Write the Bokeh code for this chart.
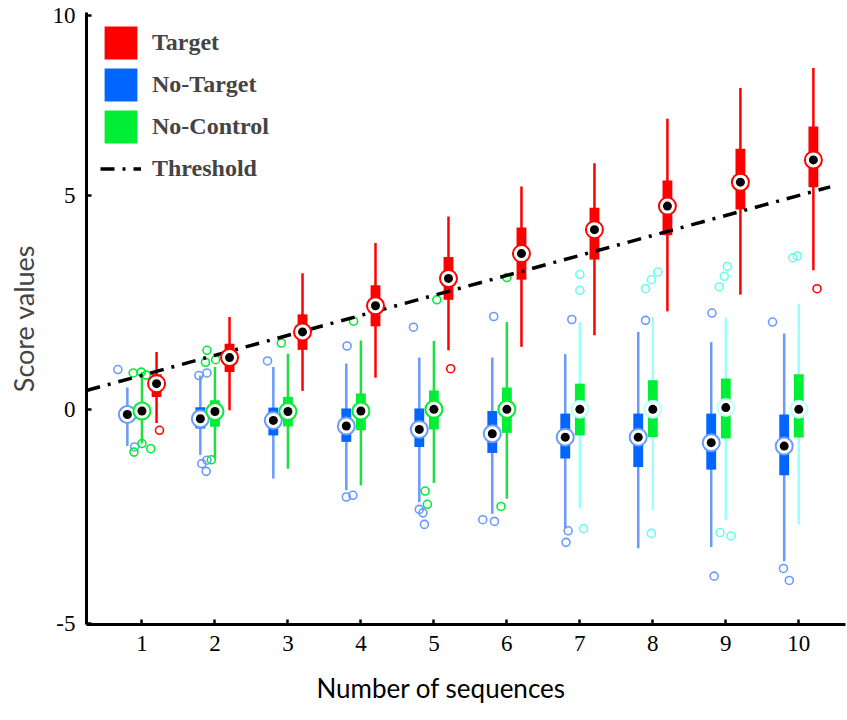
from bokeh.plotting import figure
from bokeh.models import Range1d, FixedTicker, Legend, LegendItem, Title, ColumnDataSource
from bokeh.embed import file_html
from bokeh.resources import INLINE

# ---------------- data ----------------
groups = [1, 2, 3, 4, 5, 6, 7, 8, 9, 10]
x_tick_labels = ["1", "2", "3", "4", "5", "6", "7", "8", "9", "10"]
y_tick_pos = [-5, 0, 5, 9.21]
y_tick_labels = ["-5", "0", "5", "10"]

# Target (red)
t_med = [0.60, 1.21, 1.81, 2.42, 3.06, 3.64, 4.20, 4.75, 5.31, 5.83]
t_q1 = [0.29, 0.87, 1.39, 1.94, 2.56, 3.03, 3.50, 4.07, 4.67, 5.19]
t_q3 = [0.82, 1.53, 2.22, 2.90, 3.56, 4.25, 4.71, 5.35, 6.09, 6.61]
t_lo = [-0.32, -0.02, 0.43, 0.74, 1.38, 1.46, 1.73, 2.29, 2.68, 3.25]
t_hi = [1.34, 2.16, 3.18, 3.89, 4.51, 5.21, 5.75, 6.79, 7.51, 7.98]
t_out_x = [1.24, 5.23, 10.25]
t_out_y = [-0.49, 0.95, 2.82]

# No-Target (blue)
n_med = [-0.12, -0.22, -0.26, -0.39, -0.47, -0.57, -0.65, -0.65, -0.78, -0.86]
n_q1 = [-0.25, -0.45, -0.61, -0.76, -0.88, -1.02, -1.15, -1.35, -1.41, -1.54]
n_q3 = [0.02, 0.05, 0.04, 0.02, 0.02, -0.04, -0.10, -0.10, -0.10, -0.12]
n_lo = [-0.86, -1.07, -1.62, -1.89, -2.17, -2.44, -2.79, -3.25, -3.22, -3.55]
n_hi = [0.51, 0.79, 0.99, 1.07, 1.21, 1.21, 1.29, 1.81, 1.57, 1.77]
n_out_x = [0.67, 0.90, 1.78, 1.89, 1.82, 1.89, 1.88, 2.72, 3.81, 3.80, 3.89,
           4.72, 4.80, 4.85, 4.87, 5.82, 5.67, 5.83, 6.89, 6.84, 6.81, 7.90,
           8.81, 8.84, 9.64, 9.79, 9.87]
n_out_y = [0.93, -0.88, 0.79, 0.85, -1.27, -1.19, -1.45, 1.13, 1.48, -2.05, -2.01,
           1.92, -2.34, -2.42, -2.69, 2.17, -2.58, -2.62, 2.10, -2.84, -3.11, 2.08,
           2.25, -3.90, 2.04, -3.72, -4.00]

# No-Control (green)
c_med = [-0.04, -0.05, -0.05, -0.04, 0.00, 0.00, 0.00, 0.00, 0.04, 0.00]
c_q1 = [-0.18, -0.41, -0.40, -0.49, -0.47, -0.55, -0.61, -0.65, -0.68, -0.66]
c_q3 = [0.09, 0.21, 0.29, 0.37, 0.44, 0.51, 0.60, 0.68, 0.72, 0.82]
c_lo = [-0.80, -1.15, -1.39, -1.78, -1.72, -2.09, -2.32, -2.36, -2.58, -2.69]
c_hi = [0.87, 0.99, 1.30, 1.61, 1.60, 2.04, 2.04, 2.16, 2.14, 2.47]
c_out_x = [0.88, 0.99, 1.06, 0.89, 1.00, 1.12, 1.89, 1.87, 2.01, 1.95, 2.91, 3.90,
           5.04, 4.88, 4.91, 6.00, 5.92, 7.00, 7.00, 7.05, 7.90, 7.98, 8.07, 7.98,
           8.91, 8.98, 9.02, 8.92, 9.07, 9.92, 9.98]
c_out_y = [0.85, 0.87, 0.80, -1.00, -0.80, -0.92, 1.38, 1.10, 1.16, -1.18, 1.55, 2.06,
           2.56, -1.91, -2.22, 3.08, -2.27, 3.15, 2.78, -2.79, 2.82, 3.03, 3.21, -2.90,
           2.86, 3.11, 3.34, -2.88, -2.96, 3.54, 3.58]

# Threshold line end points
thr_x = [0.24, 10.43]
thr_y = [0.44, 5.20]

# ---------------- styling ----------------
RED = "#ff0000"
BLUE = "#0066ff"
BLUE_L = "#6a9aff"
GREEN = "#00ee33"
GREEN_W = "#22dd44"
CYAN = "#99ffff"

offsets = {"n": -0.2, "c": 0.0, "t": 0.2}
BOX_W = 0.135

p = figure(width=847, height=720,
           x_range=Range1d(0.24, 10.64), y_range=Range1d(-5.03, 9.276),
           output_backend="svg", toolbar_location=None,
           min_border_left=86, min_border_right=2, min_border_top=12, min_border_bottom=96)
p.outline_line_color = None
p.xgrid.visible = False
p.ygrid.visible = False
p.background_fill_color = "white"

def shifted(xs, d):
    return [x + d for x in xs]

def draw_group(key, med, q1, q3, lo, hi, box_col, whisk_cols, ring_cols):
    xs = shifted(groups, offsets[key])
    src = ColumnDataSource(dict(x=xs, med=med, q1=q1, q3=q3, lo=lo, hi=hi,
                                wc=whisk_cols, rc=ring_cols))
    p.segment(x0="x", y0="lo", x1="x", y1="hi", source=src, line_color="wc", line_width=2.5)
    box = p.vbar(x="x", width=BOX_W, bottom="q1", top="q3", source=src,
                 fill_color=box_col, line_color=None)
    return src, box

n_src, n_box = draw_group("n", n_med, n_q1, n_q3, n_lo, n_hi, BLUE,
                          [BLUE_L] * 10, [BLUE_L] * 10)
c_src, c_box = draw_group("c", c_med, c_q1, c_q3, c_lo, c_hi, GREEN,
                          [GREEN_W if g < 7 else CYAN for g in groups],
                          [GREEN if g < 7 else "#bbffff" for g in groups])
t_src, t_box = draw_group("t", t_med, t_q1, t_q3, t_lo, t_hi, RED,
                          [RED] * 10, [RED] * 10)

# outliers
p.scatter(n_out_x, n_out_y, marker="circle", size=8, fill_color=None,
          line_color=BLUE_L, line_width=1.6)
p.scatter(c_out_x, c_out_y, marker="circle", size=8, fill_color=None,
          line_color=[GREEN if x < 6.5 else "#66ffee" for x in c_out_x], line_width=1.6)
p.scatter(t_out_x, t_out_y, marker="circle", size=8, fill_color=None,
          line_color=RED, line_width=1.6)

# threshold
thr = p.line(thr_x, thr_y, line_color="black", line_width=3.5, line_dash="14 8 3 8")

# median markers
for src in (n_src, c_src, t_src):
    p.scatter(x="x", y="med", source=src, marker="circle", size=17, fill_color="white",
              line_color="rc", line_width=2)
    p.scatter(x="x", y="med", source=src, marker="circle", size=9, fill_color="black",
              line_color=None)

# axes
for ax in (p.xaxis[0], p.yaxis[0]):
    ax.axis_line_width = 3
    ax.axis_line_color = "black"
    ax.major_tick_line_width = 2.5
    ax.major_tick_in = 5
    ax.major_tick_out = 0
    ax.minor_tick_line_color = None
    ax.major_label_text_font = "Liberation Serif"
    ax.major_label_text_font_size = "23px"
    ax.major_label_text_color = "black"
    ax.major_label_standoff = 11

p.xaxis.ticker = FixedTicker(ticks=groups)
p.xaxis.major_label_overrides = {g: s for g, s in zip(groups, x_tick_labels)}
p.yaxis.ticker = FixedTicker(ticks=y_tick_pos)
p.yaxis.major_label_overrides = {v: s for v, s in zip(y_tick_pos, y_tick_labels)}

p.yaxis.axis_label = "Score values"
p.yaxis.axis_label_text_font = "Lato"
p.yaxis.axis_label_text_font_style = "normal"
p.yaxis.axis_label_text_font_size = "27px"
p.yaxis.axis_label_standoff = 10

p.add_layout(Title(text="Number of sequences", align="left", offset=230,
                   standoff=32, text_font="Lato", text_font_size="26px",
                   text_font_style="normal", text_color="black"), "below")

legend = Legend(items=[LegendItem(label="Target", renderers=[t_box]),
                       LegendItem(label="No-Target", renderers=[n_box]),
                       LegendItem(label="No-Control", renderers=[c_box]),
                       LegendItem(label="Threshold", renderers=[thr])],
                location=(14, 435))
legend.glyph_width = 41
legend.glyph_height = 41
legend.spacing = 1
legend.padding = 0
legend.margin = 0
legend.label_standoff = 11
legend.label_text_font = "Liberation Serif"
legend.label_text_font_style = "bold"
legend.label_text_font_size = "24px"
legend.border_line_alpha = 0
legend.background_fill_alpha = 0
p.add_layout(legend, "center")

open("out.html", "w").write(file_html(p, INLINE))
